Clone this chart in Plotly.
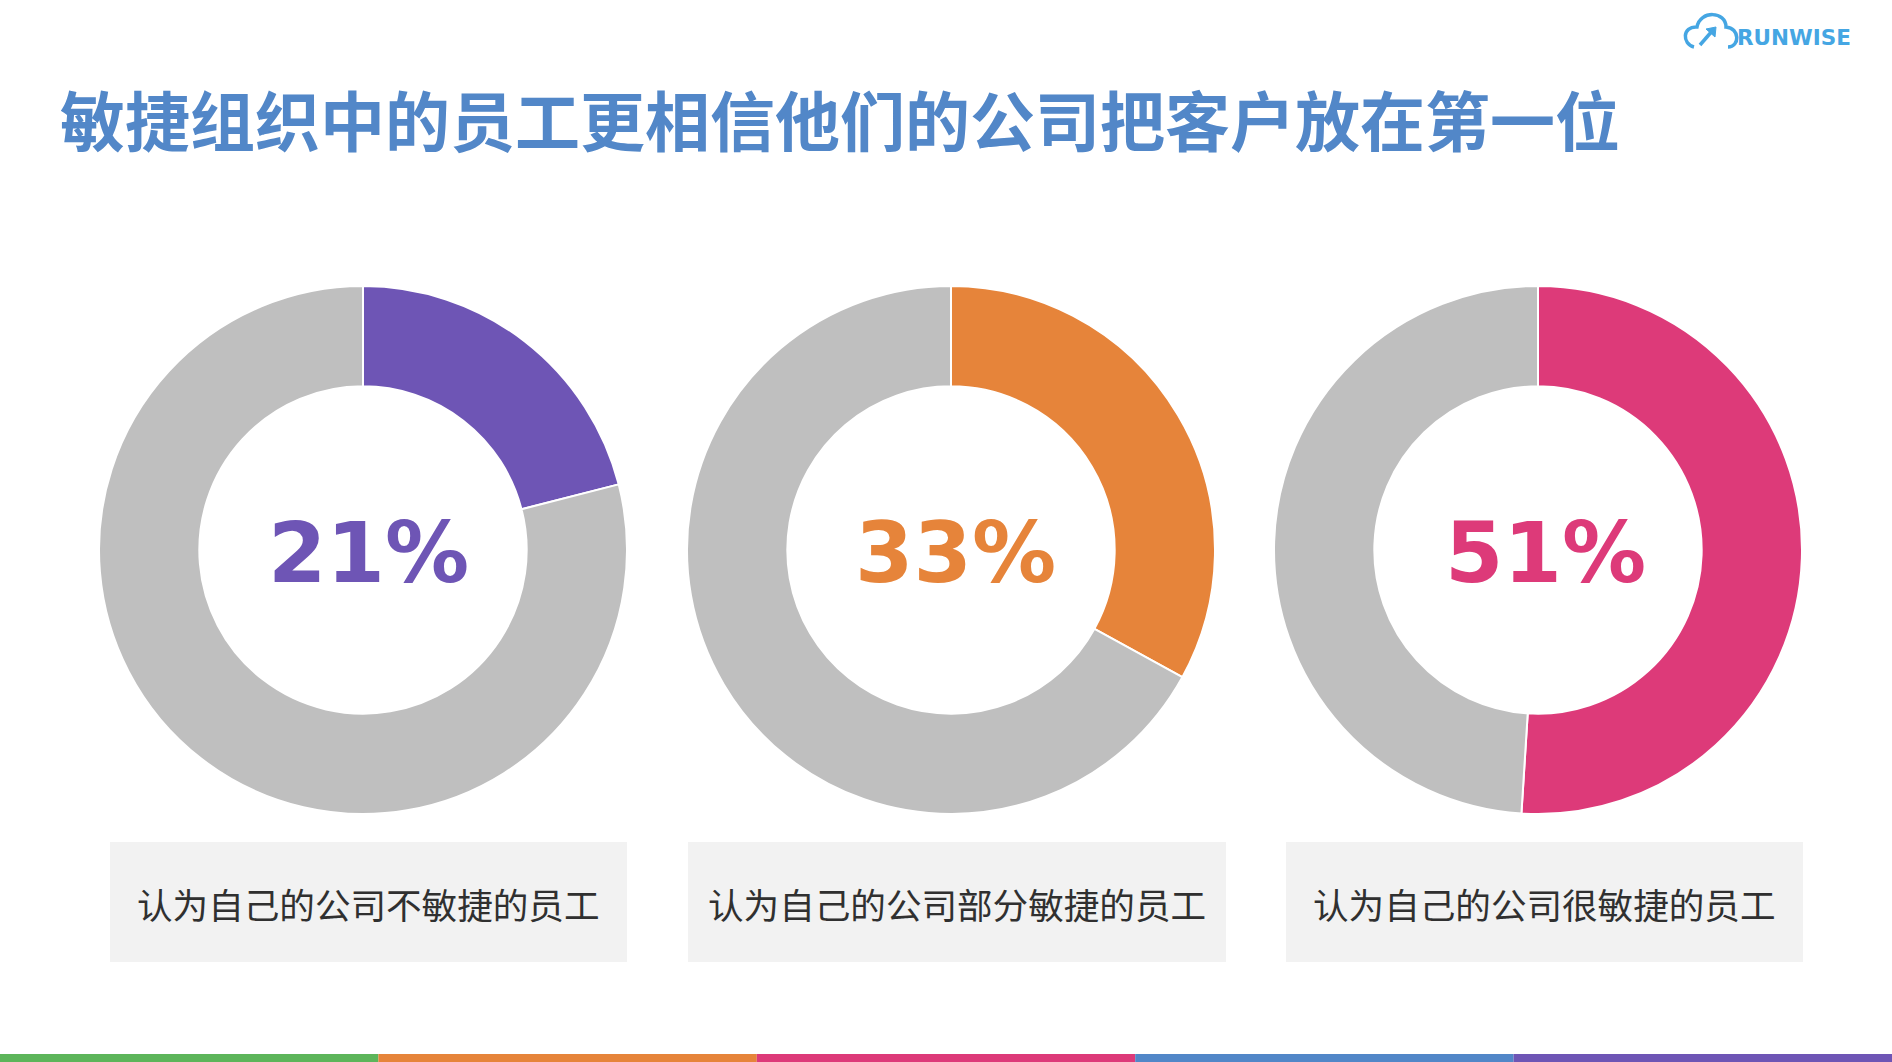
import plotly.graph_objects as go

W, H = 1892, 1062

title = "敏捷组织中的员工更相信他们的公司把客户放在第一位"
percents = [21, 33, 51]
pct_labels = ["21%", "33%", "51%"]
captions = ["认为自己的公司不敏捷的员工", "认为自己的公司部分敏捷的员工", "认为自己的公司很敏捷的员工"]
colors = ["#6E55B5", "#E6843A", "#DD3A79"]
gray = "#BFBFBF"
bar_colors = ["#5DB55A", "#E6843A", "#DD3A79", "#5287C8", "#6E55B5"]

centers_x = [363, 951, 1538]
center_y = 550
R = 264
text_x = [368, 955, 1545]
box_x = [(110, 627), (688, 1226), (1286, 1803)]
box_y = (842, 962)


def px(x):
    return x / W


def py(y):
    return 1 - y / H


fig = go.Figure()
for i, v in enumerate(percents):
    cx = centers_x[i]
    fig.add_trace(go.Pie(
        values=[v, 100 - v],
        labels=["a", "b"],
        sort=False,
        direction="clockwise",
        rotation=0,
        hole=0.62,
        marker=dict(colors=[colors[i], gray], line=dict(color="white", width=2)),
        textinfo="none",
        hoverinfo="skip",
        showlegend=False,
        domain=dict(x=[px(cx - R), px(cx + R)], y=[py(center_y + R), py(center_y - R)]),
    ))

shapes = []
annotations = []

for i in range(3):
    x0, x1 = box_x[i]
    shapes.append(dict(type="rect", xref="paper", yref="paper",
                       x0=px(x0), x1=px(x1), y0=py(box_y[1]), y1=py(box_y[0]),
                       fillcolor="#F2F2F2", line=dict(width=0), layer="below"))
    annotations.append(dict(x=px((x0 + x1) / 2), y=py((box_y[0] + box_y[1]) / 2 + 1),
                            xref="paper", yref="paper", text=captions[i], showarrow=False,
                            xanchor="center", yanchor="middle",
                            font=dict(family="Noto Sans CJK SC", size=35.6, color="#303030")))
    annotations.append(dict(x=px(text_x[i]), y=py(553), xref="paper", yref="paper",
                            text="<b>" + pct_labels[i] + "</b>", showarrow=False,
                            xanchor="center", yanchor="middle",
                            font=dict(family="DejaVu Sans", size=84, color=colors[i])))

# bottom color bar
seg = W / len(bar_colors)
for j, c in enumerate(bar_colors):
    shapes.append(dict(type="rect", xref="paper", yref="paper",
                       x0=px(j * seg), x1=px((j + 1) * seg), y0=0, y1=py(1054),
                       fillcolor=c, line=dict(width=0)))

# title
annotations.append(dict(x=px(58), y=py(118), xref="paper", yref="paper",
                        text="<b>" + title + "</b>", showarrow=False,
                        xanchor="left", yanchor="middle",
                        font=dict(family="Noto Sans CJK SC", size=65, color="#5287C8")))

# logo
annotations.append(dict(x=px(1853), y=py(37), xref="paper", yref="paper",
                        text="<b>RUNWISE</b>", showarrow=False,
                        xanchor="right", yanchor="middle",
                        font=dict(family="DejaVu Sans", size=21.5, color="#45A6E3")))
cloud = ("M {a},{b} C {c},{d} {e},{f} {g},{h} C {i},{j} {k},{l} {m},{n} "
         "C {o},{p} {q},{r} {s},{t}").format(
    a=px(1694), b=py(47),
    c=px(1682), d=py(44), e=px(1682), f=py(26), g=px(1697), h=py(27),
    i=px(1700), j=py(10), k=px(1726), l=py(11), m=px(1726), n=py(27),
    o=px(1740), p=py(28), q=px(1740), r=py(47), s=px(1728), t=py(47))
shapes.append(dict(type="path", xref="paper", yref="paper", path=cloud,
                   line=dict(color="#45A6E3", width=3.5)))
shapes.append(dict(type="line", xref="paper", yref="paper",
                   x0=px(1700), y0=py(45), x1=px(1713), y1=py(30),
                   line=dict(color="#45A6E3", width=3.5)))
shapes.append(dict(type="path", xref="paper", yref="paper",
                   path="M {a},{b} L {c},{d} L {e},{f} Z".format(
                       a=px(1706), b=py(29), c=px(1716), d=py(27), e=px(1715), f=py(37)),
                   fillcolor="#45A6E3", line=dict(color="#45A6E3", width=1)))

fig.update_layout(
    width=W, height=H,
    margin=dict(l=0, r=0, t=0, b=0),
    paper_bgcolor="white",
    plot_bgcolor="white",
    shapes=shapes,
    annotations=annotations,
    showlegend=False,
)

fig.write_html("out.html", config={"displayModeBar": False})
